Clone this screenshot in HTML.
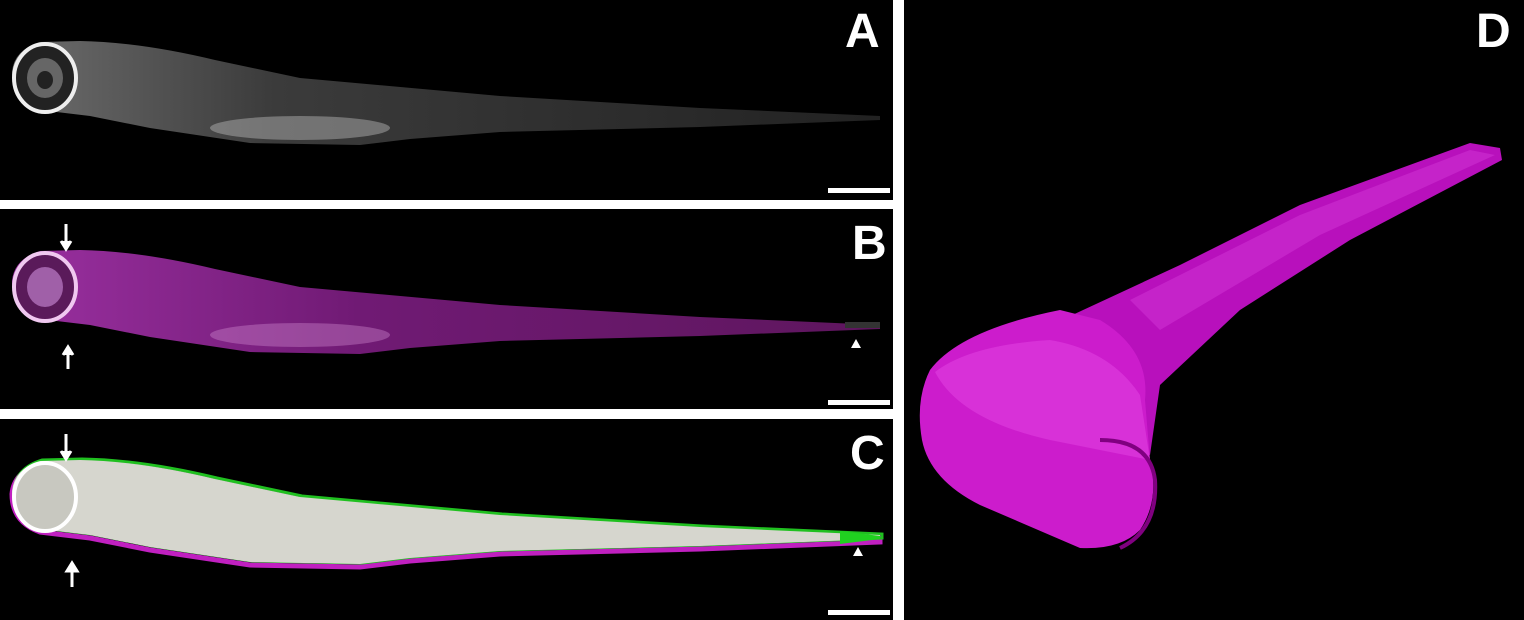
<!DOCTYPE html>
<html><head><meta charset="utf-8"><style>
body{margin:0;background:#fff;}
svg{display:block;}
text{font-family:"Liberation Sans",sans-serif;font-weight:bold;fill:#fff;}
</style></head><body>
<svg width="1524" height="620" viewBox="0 0 1524 620">
<defs>
<path id="fish" d="M12,72 Q14,50 40,42 L80,41 Q140,42 215,60 L300,78 L500,96 L700,108 L880,116 L880,120 L700,127 L500,132 L410,139 L360,145 L250,143 L150,128 L90,116 L40,110 Q12,100 12,72 Z"/>
<linearGradient id="gbody" x1="0" x2="1" y1="0" y2="0"><stop offset="0" stop-color="#8a8a8a"/><stop offset="0.3" stop-color="#4a4a4a"/><stop offset="1" stop-color="#2a2a2a"/></linearGradient>
<linearGradient id="mag" x1="0" x2="1" y1="0" y2="0"><stop offset="0" stop-color="#9a30a0"/><stop offset="0.4" stop-color="#701a74"/><stop offset="1" stop-color="#5e165e"/></linearGradient>
</defs>
<g>
<rect x="0" y="0" width="893" height="200" fill="#000"/>
<use href="#fish" fill="url(#gbody)" opacity="0.8"/>
<ellipse cx="300" cy="128" rx="90" ry="12" fill="#bbb" opacity="0.45"/>
<ellipse cx="45" cy="78" rx="31" ry="34" fill="#222" stroke="#eee" stroke-width="4"/>
<ellipse cx="45" cy="78" rx="18" ry="20" fill="#666"/>
<ellipse cx="45" cy="80" rx="8" ry="9" fill="#222"/>
<text x="845" y="47" font-size="48">A</text>
<rect x="828" y="188" width="62" height="5" fill="#fff"/>
</g>
<g transform="translate(0,209)">
<rect x="0" y="0" width="893" height="200" fill="#000"/>
<use href="#fish" fill="url(#mag)"/>
<rect x="845" y="113" width="35" height="6" fill="#333"/>
<ellipse cx="300" cy="126" rx="90" ry="12" fill="#d08ad0" opacity="0.4"/>
<ellipse cx="45" cy="78" rx="31" ry="34" fill="#5a1a5a" stroke="#f0c8f0" stroke-width="4"/>
<ellipse cx="45" cy="78" rx="18" ry="20" fill="#a060a8"/>
<path d="M66,15 V38 M61,32 L66,40 L71,32" stroke="#fff" stroke-width="3" fill="#fff"/>
<path d="M68,160 V140 M63,146 L68,138 L73,146" stroke="#fff" stroke-width="3" fill="#fff"/>
<path d="M851,139 L856,130 L861,139 Z" fill="#fff"/>
<text x="852" y="50" font-size="48">B</text>
<rect x="828" y="191" width="62" height="5" fill="#fff"/>
</g>
<g transform="translate(0,419)">
<rect x="0" y="0" width="893" height="201" fill="#000"/>
<use href="#fish" fill="none" stroke="#c020c0" stroke-width="5" transform="translate(0,3)"/>
<use href="#fish" fill="none" stroke="#20c020" stroke-width="3" transform="translate(2,-1)"/>
<use href="#fish" fill="#d6d6ce"/>
<path d="M840,112 L880,117 L880,120 L840,125 Z" fill="#20d020"/>
<ellipse cx="45" cy="78" rx="31" ry="34" fill="#c8c8c0" stroke="#fff" stroke-width="4"/>
<path d="M66,15 V38 M61,32 L66,40 L71,32" stroke="#fff" stroke-width="3" fill="#fff"/>
<path d="M72,168 V146 M67,152 L72,144 L77,152 Z" stroke="#fff" stroke-width="3" fill="#fff"/>
<path d="M853,137 L858,128 L863,137 Z" fill="#fff"/>
<text x="850" y="50" font-size="48">C</text>
<rect x="828" y="191" width="62" height="5" fill="#fff"/>
</g>
<g>
<rect x="904" y="0" width="620" height="620" fill="#000"/>
<path d="M1040,330 L1180,265 L1300,205 L1470,143 L1500,148 L1502,160 L1350,240 L1240,310 L1160,385 L1150,455 L1100,420 Z" fill="#b810bc"/>
<path d="M1130,300 L1300,215 L1470,150 L1495,155 L1320,235 L1160,330 Z" fill="#c828cc" opacity="0.8"/>
<path d="M930,370 Q960,330 1060,310 L1100,320 Q1150,350 1145,400 L1150,460 Q1160,500 1140,530 Q1120,550 1080,548 L980,505 Q930,480 922,440 Q915,400 930,370 Z" fill="#cc1ccc"/>
<path d="M935,372 Q970,345 1050,340 Q1110,350 1140,395 L1150,460 Q1100,450 1050,440 Q960,420 935,372 Z" fill="#e040e0" opacity="0.6"/>
<path d="M1100,440 Q1150,440 1155,480 Q1158,530 1120,548" fill="none" stroke="#800080" stroke-width="4"/>
<text x="1476" y="47" font-size="48">D</text>
</g>
</svg>
</body></html>
